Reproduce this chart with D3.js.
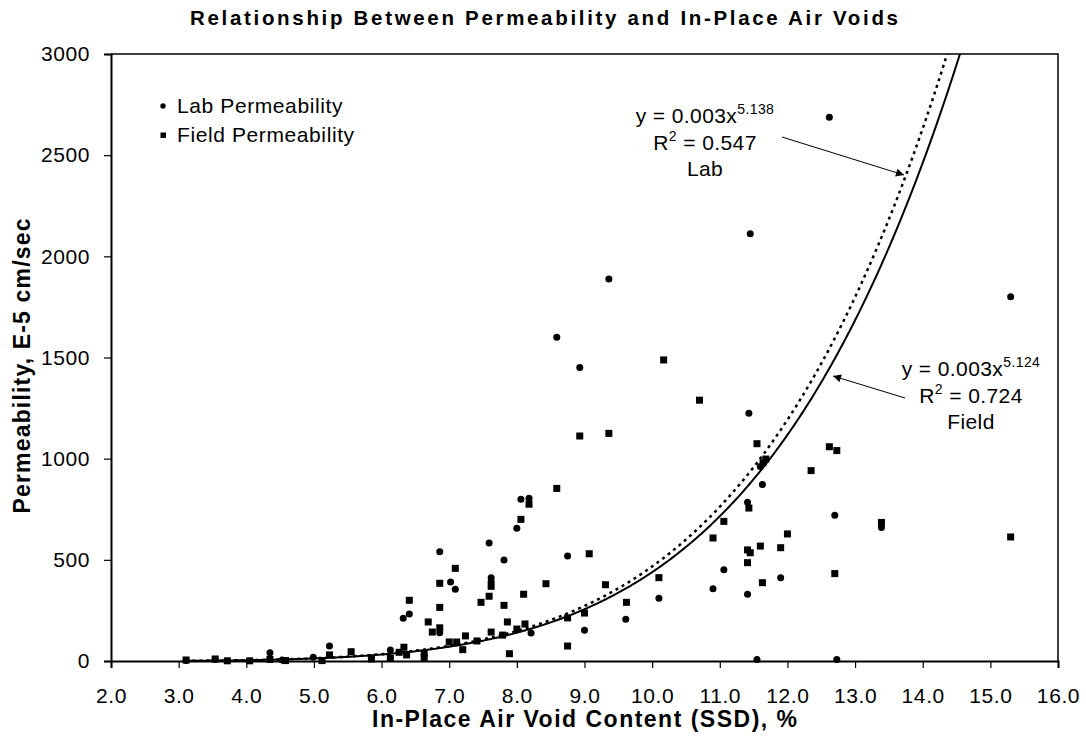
<!DOCTYPE html>
<html>
<head>
<meta charset="utf-8">
<script src="https://cdn.jsdelivr.net/npm/d3@7"></script>
<style>
  body { margin: 0; background: #fff; }
  svg { font-family: "Liberation Sans", Arial, sans-serif; }
</style>
</head>
<body>
<svg id="chart" width="1086" height="740"></svg>
<script>
// Lab permeability (circles)
const labVoids = [3.11, 3.54, 4.35, 4.53, 4.99, 5.23, 6.13, 6.32, 6.41, 6.86, 6.86, 7.02, 7.09,
  7.59, 7.62, 7.62, 7.81, 8.00, 8.06, 8.18, 8.21, 8.59, 8.75, 8.93, 9.00, 9.36, 9.61, 10.10,
  10.90, 11.06, 11.41, 11.41, 11.43, 11.45, 11.55, 11.60, 11.63, 11.90, 12.62, 12.70, 12.73,
  13.39, 15.30];
const labPerm = [3, 8, 41, 5, 18, 74, 54, 211, 232, 540, 140, 390, 354,
  583, 412, 392, 499, 656, 799, 804, 138, 1600, 519, 1450, 152, 1888, 206, 310,
  357, 451, 784, 330, 1224, 2111, 8, 961, 872, 412, 2688, 720, 8,
  660, 1800];

// Field permeability (squares)
const fieldVoids = [3.11, 3.54, 3.72, 4.05, 4.35, 4.58, 5.12, 5.23, 5.55, 5.85, 6.13, 6.26, 6.33,
  6.37, 6.41, 6.63, 6.63, 6.69, 6.75, 6.86, 6.86, 6.86, 7.00, 7.09, 7.11, 7.20, 7.24, 7.41,
  7.47, 7.59, 7.62, 7.62, 7.79, 7.81, 7.86, 7.89, 8.00, 8.06, 8.10, 8.12, 8.18, 8.43, 8.59,
  8.75, 8.75, 8.93, 9.00, 9.07, 9.31, 9.36, 9.62, 10.10, 10.17, 10.70, 10.90, 11.06, 11.41,
  11.45, 11.41, 11.43, 11.55, 11.60, 11.63, 11.64, 11.68, 11.90, 12.00, 12.35, 12.62, 12.70,
  12.73, 13.39, 15.30];
const fieldPerm = [5, 10, 1, 1, 8, 2, 2, 30, 46, 10, 13, 43, 68,
  30, 300, 38, 18, 193, 143, 384, 265, 164, 94, 458, 94, 56, 124, 99,
  290, 320, 369, 143, 128, 275, 193, 36, 158, 700, 330, 183, 775, 382, 853,
  213, 74, 1112, 237, 530, 377, 1125, 290, 412, 1488, 1289, 608, 690, 549,
  535, 486, 756, 1074, 568, 387, 980, 998, 560, 628, 941, 1059, 432,
  1040, 685, 613];

// power trendlines y = a * x^b  (lab, field)
const trendNames = ['Lab', 'Field'];
const trendA = [0.0034, 0.0033];
const trendB = [5.138, 5.124];
const trendShown = ['0.003', '0.003'];
const trendR2 = ['0.547', '0.724'];

const xTicks = [2, 3, 4, 5, 6, 7, 8, 9, 10, 11, 12, 13, 14, 15, 16];
const yTicks = [0, 500, 1000, 1500, 2000, 2500, 3000];

const svg = d3.select('#chart');
const plotLeft = 111, plotRight = 1058, plotTop = 54, plotBottom = 661;

const x = d3.scaleLinear().domain([2, 16]).range([plotLeft, plotRight]);
const y = d3.scaleLinear().domain([0, 3000]).range([plotBottom, plotTop]);

// title
svg.append('text')
  .attr('x', 544).attr('y', 25)
  .attr('text-anchor', 'middle')
  .attr('font-size', 20.5).attr('font-weight', 'bold')
  .attr('textLength', 708).attr('lengthAdjust', 'spacing')
  .text('Relationship Between Permeability and In-Place Air Voids');

// clip for trend curves
svg.append('clipPath').attr('id', 'plotclip')
  .append('rect').attr('x', plotLeft).attr('y', plotTop)
  .attr('width', plotRight - plotLeft).attr('height', plotBottom - plotTop);

// frame (top & right)
svg.append('path')
  .attr('d', `M${plotLeft},${plotTop}H${plotRight}V${plotBottom}`)
  .attr('fill', 'none').attr('stroke', '#000').attr('stroke-width', 1.5);

// axes
const xAxis = svg.append('g')
  .attr('transform', `translate(0,${plotBottom})`)
  .call(d3.axisBottom(x).tickValues(xTicks).tickFormat(d3.format('.1f')).tickSizeOuter(0).tickSize(7));
const yAxis = svg.append('g')
  .attr('transform', `translate(${plotLeft},0)`)
  .call(d3.axisLeft(y).tickValues(yTicks).tickFormat(d3.format('d')).tickSizeOuter(0).tickSize(7).tickPadding(14));

[xAxis, yAxis].forEach(g => {
  g.select('.domain').attr('stroke', '#000').attr('stroke-width', 2);
  g.selectAll('.tick line').attr('stroke', '#000').attr('stroke-width', 1.2);
  g.selectAll('.tick text').attr('font-size', 21).attr('fill', '#000')
    .attr('letter-spacing', 0.6)
    .attr('font-family', '"Liberation Sans", Arial, sans-serif');
});
xAxis.selectAll('.tick text').attr('dy', null).attr('y', 42);

// axis titles
svg.append('text')
  .attr('x', (plotLeft + plotRight) / 2).attr('y', 727)
  .attr('text-anchor', 'middle')
  .attr('font-size', 23).attr('font-weight', 'bold')
  .attr('textLength', 425).attr('lengthAdjust', 'spacing')
  .text('In-Place Air Void Content (SSD), %');
svg.append('text')
  .attr('transform', `translate(30,366) rotate(-90)`)
  .attr('text-anchor', 'middle')
  .attr('font-size', 23).attr('font-weight', 'bold')
  .attr('textLength', 295).attr('lengthAdjust', 'spacing')
  .text('Permeability, E-5 cm/sec');

// trend curves
const curveX = d3.range(3.1, 16.001, 0.02);
const line = d3.line().x(d => x(d[0])).y(d => y(d[1]));
const curves = svg.append('g').attr('clip-path', 'url(#plotclip)');
trendA.forEach((a, i) => {
  const pts = curveX.map(v => [v, a * Math.pow(v, trendB[i])]).filter(p => p[1] < 3400);
  curves.append('path')
    .attr('d', line(pts))
    .attr('fill', 'none').attr('stroke', '#000')
    .attr('stroke-width', i === 0 ? 2.5 : 2)
    .attr('stroke-dasharray', i === 0 ? '3,4' : null);
});

// points
svg.append('g').selectAll('circle')
  .data(labVoids.map((v, i) => [v, labPerm[i]]))
  .join('circle')
  .attr('cx', d => x(d[0])).attr('cy', d => y(d[1]))
  .attr('r', 3.5).attr('fill', '#000');

svg.append('g').selectAll('rect')
  .data(fieldVoids.map((v, i) => [v, fieldPerm[i]]))
  .join('rect')
  .attr('x', d => x(d[0]) - 3.5).attr('y', d => y(d[1]) - 3.5)
  .attr('width', 7).attr('height', 7).attr('fill', '#000');

// legend
const legend = svg.append('g');
legend.append('circle').attr('cx', 163).attr('cy', 106).attr('r', 2.7);
legend.append('rect').attr('x', 160.5).attr('y', 132.5).attr('width', 5.5).attr('height', 5.5);
legend.append('text').attr('x', 177).attr('y', 113).attr('font-size', 21)
  .attr('letter-spacing', 0.6).text('Lab Permeability');
legend.append('text').attr('x', 177).attr('y', 142).attr('font-size', 21)
  .attr('letter-spacing', 0.6).text('Field Permeability');

// annotations
svg.append('defs').append('marker')
  .attr('id', 'arrow').attr('viewBox', '0 0 10 10')
  .attr('refX', 10).attr('refY', 5)
  .attr('markerWidth', 11).attr('markerHeight', 8)
  .attr('markerUnits', 'userSpaceOnUse')
  .attr('orient', 'auto')
  .append('path').attr('d', 'M0,0L10,5L0,10Z').attr('fill', '#000');

const notes = [
  { cx: 705, y0: 123, from: [782, 137], to: [904, 175] },
  { cx: 971, y0: 376, from: [905, 398], to: [833, 376] }
];
notes.forEach((n, i) => {
  const t1 = svg.append('text').attr('x', n.cx).attr('y', n.y0)
    .attr('text-anchor', 'middle').attr('font-size', 21).attr('letter-spacing', 0.4);
  t1.append('tspan').text(`y = ${trendShown[i]}x`);
  t1.append('tspan').attr('font-size', 14).attr('dy', -9).text(trendB[i].toFixed(3));

  const t2 = svg.append('text').attr('x', n.cx).attr('y', n.y0 + 27)
    .attr('text-anchor', 'middle').attr('font-size', 21).attr('letter-spacing', 0.4);
  t2.append('tspan').text('R');
  t2.append('tspan').attr('font-size', 14).attr('dy', -9).text('2');
  t2.append('tspan').attr('dy', 9).text(` = ${trendR2[i]}`);

  svg.append('text').attr('x', n.cx).attr('y', n.y0 + 53)
    .attr('text-anchor', 'middle').attr('font-size', 21).attr('letter-spacing', 0.4)
    .text(trendNames[i]);

  svg.append('line')
    .attr('x1', n.from[0]).attr('y1', n.from[1])
    .attr('x2', n.to[0]).attr('y2', n.to[1])
    .attr('stroke', '#000').attr('stroke-width', 1)
    .attr('marker-end', 'url(#arrow)');
});
</script>
</body>
</html>
